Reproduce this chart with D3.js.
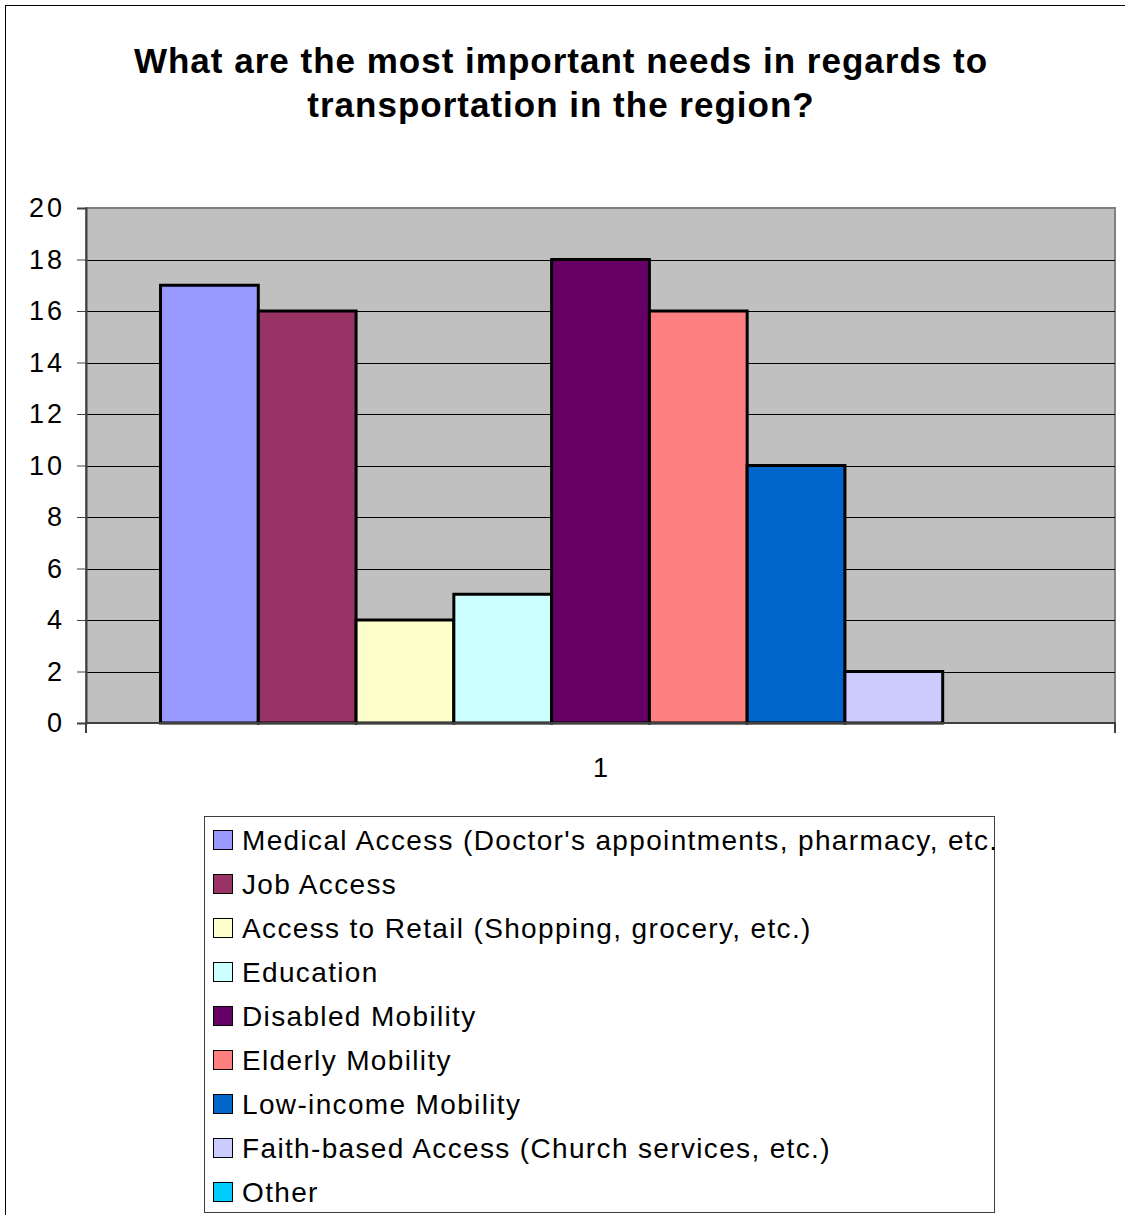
<!DOCTYPE html>
<html>
<head>
<meta charset="utf-8">
<script src="https://cdn.jsdelivr.net/npm/d3@7"></script>
<style>
  body { margin: 0; background: #fff; }
  svg { display: block; font-family: "Liberation Sans", Arial, sans-serif; }
</style>
</head>
<body>
<svg id="chart" width="1125" height="1215"></svg>
<script>
const categories = ["1"];
const seriesNames = [
  "Medical Access (Doctor's appointments, pharmacy, etc.",
  "Job Access",
  "Access to Retail (Shopping, grocery, etc.)",
  "Education",
  "Disabled Mobility",
  "Elderly Mobility",
  "Low-income Mobility",
  "Faith-based Access (Church services, etc.)",
  "Other"
];
const seriesValues = [17, 16, 4, 5, 18, 16, 10, 2, 0];
const seriesColors = ["#9999ff", "#993366", "#ffffcc", "#ccffff", "#660066", "#ff8080", "#0066cc", "#ccccff", "#00ccff"];
const yTicks = [0, 2, 4, 6, 8, 10, 12, 14, 16, 18, 20];
const titleLines = ["What are the most important needs in regards to", "transportation in the region?"];

const MARGIN = { TOP: 208, LEFT: 86, RIGHT: 1115, BOTTOM: 723 };

const svg = d3.select("#chart");

// outer chart frame
svg.append("rect")
    .attr("x", 5.5).attr("y", 5.5)
    .attr("width", 1130).attr("height", 1220)
    .attr("fill", "none")
    .attr("stroke", "#000")
    .attr("stroke-width", 1);

// title
svg.append("text")
    .attr("text-anchor", "middle")
    .attr("font-weight", "bold")
    .attr("font-size", "35px")
    .attr("letter-spacing", "1px")
    .selectAll("tspan")
    .data(titleLines)
    .join("tspan")
    .attr("x", 561)
    .attr("y", (d, i) => 73 + i * 44)
    .text(d => d);

const xScale = d3.scaleBand()
    .domain(categories)
    .range([MARGIN.LEFT, MARGIN.RIGHT])
    .paddingInner(0)
    .paddingOuter(0.0847);

const xInner = d3.scaleBand()
    .domain(seriesNames)
    .range([0, xScale.bandwidth()]);

const yScale = d3.scaleLinear()
    .domain([0, 20])
    .range([MARGIN.BOTTOM, MARGIN.TOP]);

// plot background
svg.append("rect")
    .attr("x", MARGIN.LEFT).attr("y", MARGIN.TOP)
    .attr("width", MARGIN.RIGHT - MARGIN.LEFT)
    .attr("height", MARGIN.BOTTOM - MARGIN.TOP)
    .attr("fill", "#c0c0c0")
    .attr("stroke", "#808080")
    .attr("stroke-width", 2);

// gridlines
svg.append("g")
    .selectAll("line")
    .data(yTicks.filter(d => d > 0 && d < 20))
    .join("line")
    .attr("x1", MARGIN.LEFT).attr("x2", MARGIN.RIGHT)
    .attr("y1", d => Math.round(yScale(d)) + 0.5)
    .attr("y2", d => Math.round(yScale(d)) + 0.5)
    .attr("stroke", "#000")
    .attr("stroke-width", 1);

// bars
svg.append("g")
    .selectAll("rect")
    .data(seriesValues.map((v, i) => ({ name: seriesNames[i], value: v, color: seriesColors[i] })))
    .join("rect")
    .attr("x", d => xScale("1") + xInner(d.name))
    .attr("y", d => yScale(d.value))
    .attr("width", xInner.bandwidth())
    .attr("height", d => yScale(0) - yScale(d.value))
    .attr("fill", d => d.color)
    .attr("stroke", "#000")
    .attr("stroke-width", d => d.value > 0 ? 3 : 0);

// y axis
const yAxis = svg.append("g")
    .attr("transform", `translate(${MARGIN.LEFT},0)`)
    .call(d3.axisLeft(yScale).tickValues(yTicks).tickSize(9).tickPadding(12));
yAxis.select(".domain").attr("stroke", "#404040").attr("stroke-width", 2);
yAxis.selectAll(".tick line").attr("stroke", "#404040");
yAxis.selectAll(".tick text")
    .attr("font-size", "27px")
    .attr("letter-spacing", "3px")
    .attr("font-family", "Liberation Sans, Arial, sans-serif")
    .attr("fill", "#000");

// x axis
const xAxis = svg.append("g")
    .attr("transform", `translate(0,${MARGIN.BOTTOM})`)
    .call(d3.axisBottom(xScale).tickSize(0).tickPadding(35));
xAxis.select(".domain").attr("stroke", "#404040").attr("stroke-width", 2)
    .attr("d", `M${MARGIN.LEFT},10V0H${MARGIN.RIGHT}V10`);
xAxis.selectAll(".tick text")
    .attr("font-size", "27px")
    .attr("font-family", "Liberation Sans, Arial, sans-serif")
    .attr("fill", "#000");

// legend
const legend = svg.append("g");
legend.append("rect")
    .attr("x", 204.5).attr("y", 816.5)
    .attr("width", 790).attr("height", 396)
    .attr("fill", "#fff")
    .attr("stroke", "#404040")
    .attr("stroke-width", 1);

const legendClip = svg.append("clipPath").attr("id", "legclip");
legendClip.append("rect").attr("x", 205).attr("y", 817).attr("width", 793).attr("height", 395);

const items = legend.append("g")
    .attr("clip-path", "url(#legclip)")
    .selectAll("g")
    .data(seriesNames)
    .join("g")
    .attr("transform", (d, i) => `translate(213,${840 + i * 44})`);

items.append("rect")
    .attr("x", 0.5).attr("y", -9.5)
    .attr("width", 19).attr("height", 19)
    .attr("fill", (d, i) => seriesColors[i])
    .attr("stroke", "#000")
    .attr("stroke-width", 1);

items.append("text")
    .attr("x", 29)
    .attr("y", 10)
    .attr("font-size", "28px")
    .attr("letter-spacing", "1.35px")
    .attr("fill", "#000")
    .text(d => d);
</script>
</body>
</html>
